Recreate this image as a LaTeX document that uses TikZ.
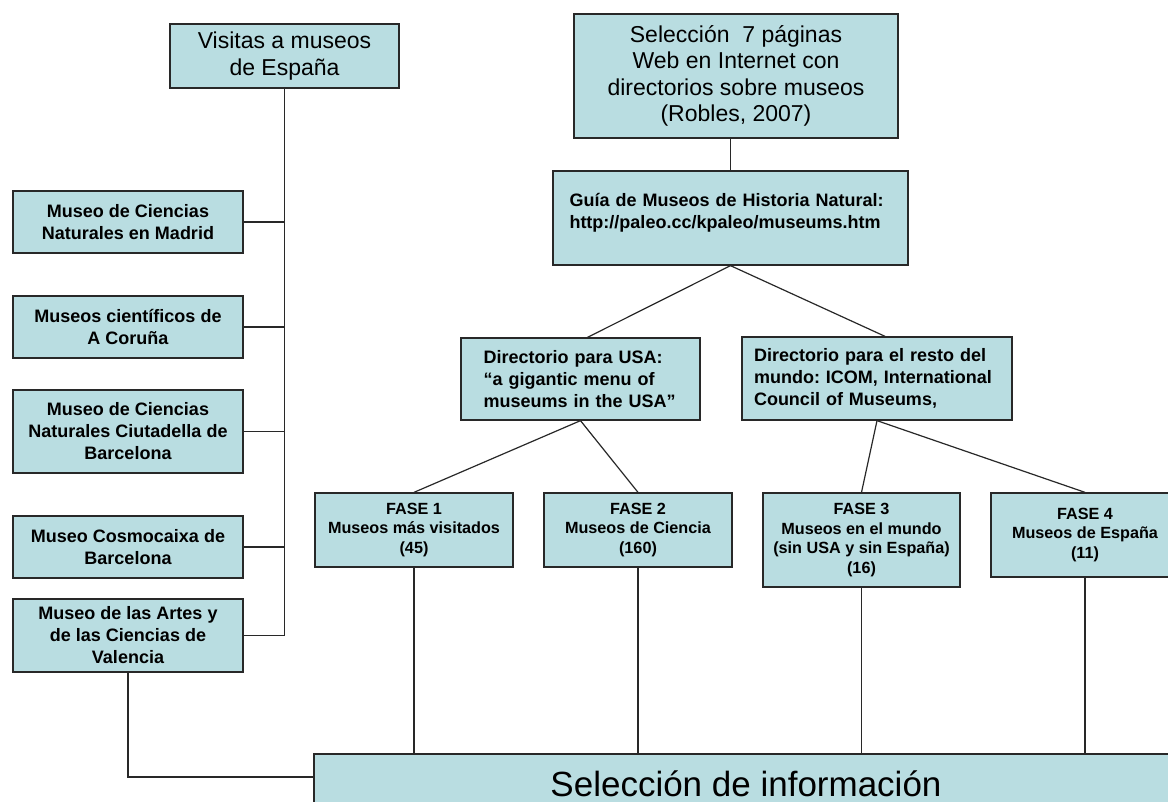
\documentclass[tikz,border=0pt]{standalone}
\usepackage{fontspec}
\setmainfont{Liberation Sans}
\definecolor{cajaazul}{RGB}{185,221,225}
\definecolor{linea}{RGB}{40,40,40}

\begin{document}
\frenchspacing
\begin{tikzpicture}[x=1pt,y=-1pt,
    caja/.style={draw=linea, line width=1.3pt, fill=cajaazul, inner sep=0pt, align=center},
    grande/.style={caja, font=\fontsize{23}{26.5}\selectfont},
    chica/.style={caja, font=\bfseries\fontsize{18}{22}\selectfont},
    fase/.style={caja, font=\bfseries\fontsize{16.2}{19.5}\selectfont},
    enlace/.style={draw=linea, line width=1.2pt}]
            % Page
            \useasboundingbox (0,0) rectangle (1168,802);
            \fill[white] (0,0) rectangle (1168,802);
            \clip (0,0) rectangle (1168,802);

            % Left column
            \node[grande, minimum width=229pt, minimum height=64pt] (visitas) at (284.5,56) {Visitas a museos\\de España};
            \node[chica, minimum width=230pt, minimum height=62pt] (madrid) at (128,222) {Museo de Ciencias\\Naturales en Madrid};
            \node[chica, minimum width=230pt, minimum height=62pt] (coruna) at (128,327) {Museos científicos de\\A Coruña};
            \node[chica, minimum width=230pt, minimum height=83pt] (ciutadella) at (128,431.5) {Museo de Ciencias\\Naturales Ciutadella de\\Barcelona};
            \node[chica, minimum width=230pt, minimum height=62pt] (cosmo) at (128,547) {Museo Cosmocaixa de\\Barcelona};
            \node[chica, minimum width=230pt, minimum height=73pt] (valencia) at (128,635.5) {Museo de las Artes y\\de las Ciencias de\\Valencia};

            % Right column
            \node[grande, minimum width=324pt, minimum height=124pt] (sel7) at (736,76) {Selección\ \ 7 páginas\\Web en Internet con\\directorios sobre museos\\(Robles, 2007)};
            \node[chica, minimum width=355pt, minimum height=94pt, text width=322pt, align=left] (guia) at (730.5,218) {Guía de Museos de Historia Natural:\\http://paleo.cc/kpaleo/museums.htm\\[-8pt]\mbox{}};
            \node[chica, minimum width=239pt, minimum height=82pt, text width=194pt, align=left] (usa) at (580.5,379) {Directorio para USA:\\“a gigantic menu of\\museums in the USA”};
            \node[chica, minimum width=270pt, minimum height=83pt, text width=246pt, align=left] (resto) at (877,378.5) {Directorio para el resto del\\mundo: ICOM, International\\Council of Museums,};

            % Phases
            \node[fase, minimum width=198pt, minimum height=74pt] (fase1) at (414,530) {FASE 1\\Museos más visitados\\(45)};
            \node[fase, minimum width=188pt, minimum height=74pt] (fase2) at (638,530) {FASE 2\\Museos de Ciencia\\(160)};
            \node[fase, minimum width=197pt, minimum height=94pt] (fase3) at (861.5,540) {FASE 3\\Museos en el mundo\\(sin USA y sin España)\\(16)};
            \node[fase, minimum width=188pt, minimum height=84pt] (fase4) at (1085,535) {FASE 4\\Museos de España\\(11)};

            % Bottom box
            \node[caja, minimum width=864pt, minimum height=60pt, font=\fontsize{35}{40}\selectfont] (info) at (746,784) {Selección de información};

            % Left tree
            \draw[enlace] (visitas.south) |- (valencia.east);
            \foreach \m in {madrid,coruna,ciutadella,cosmo}
              \draw[enlace] (\m.east) -- (\m.east -| visitas.south);
            \draw[enlace] (valencia.south) |- ([yshift=7pt]info.west);

            % Right tree
            \draw[enlace] (guia.north) -- (guia.north |- sel7.south);
            \draw[enlace] (guia.south) -- ([xshift=7pt]usa.north);
            \draw[enlace] (guia.south) -- ([xshift=8pt]resto.north);
            \draw[enlace] (usa.south) -- (fase1.north);
            \draw[enlace] (usa.south) -- (fase2.north);
            \draw[enlace] (resto.south) -- (fase3.north);
            \draw[enlace] (resto.south) -- (fase4.north);
            \foreach \f in {fase1,fase2,fase3,fase4}
              \draw[enlace] (\f.south) -- (\f.south |- info.north);
\end{tikzpicture}
\end{document}
